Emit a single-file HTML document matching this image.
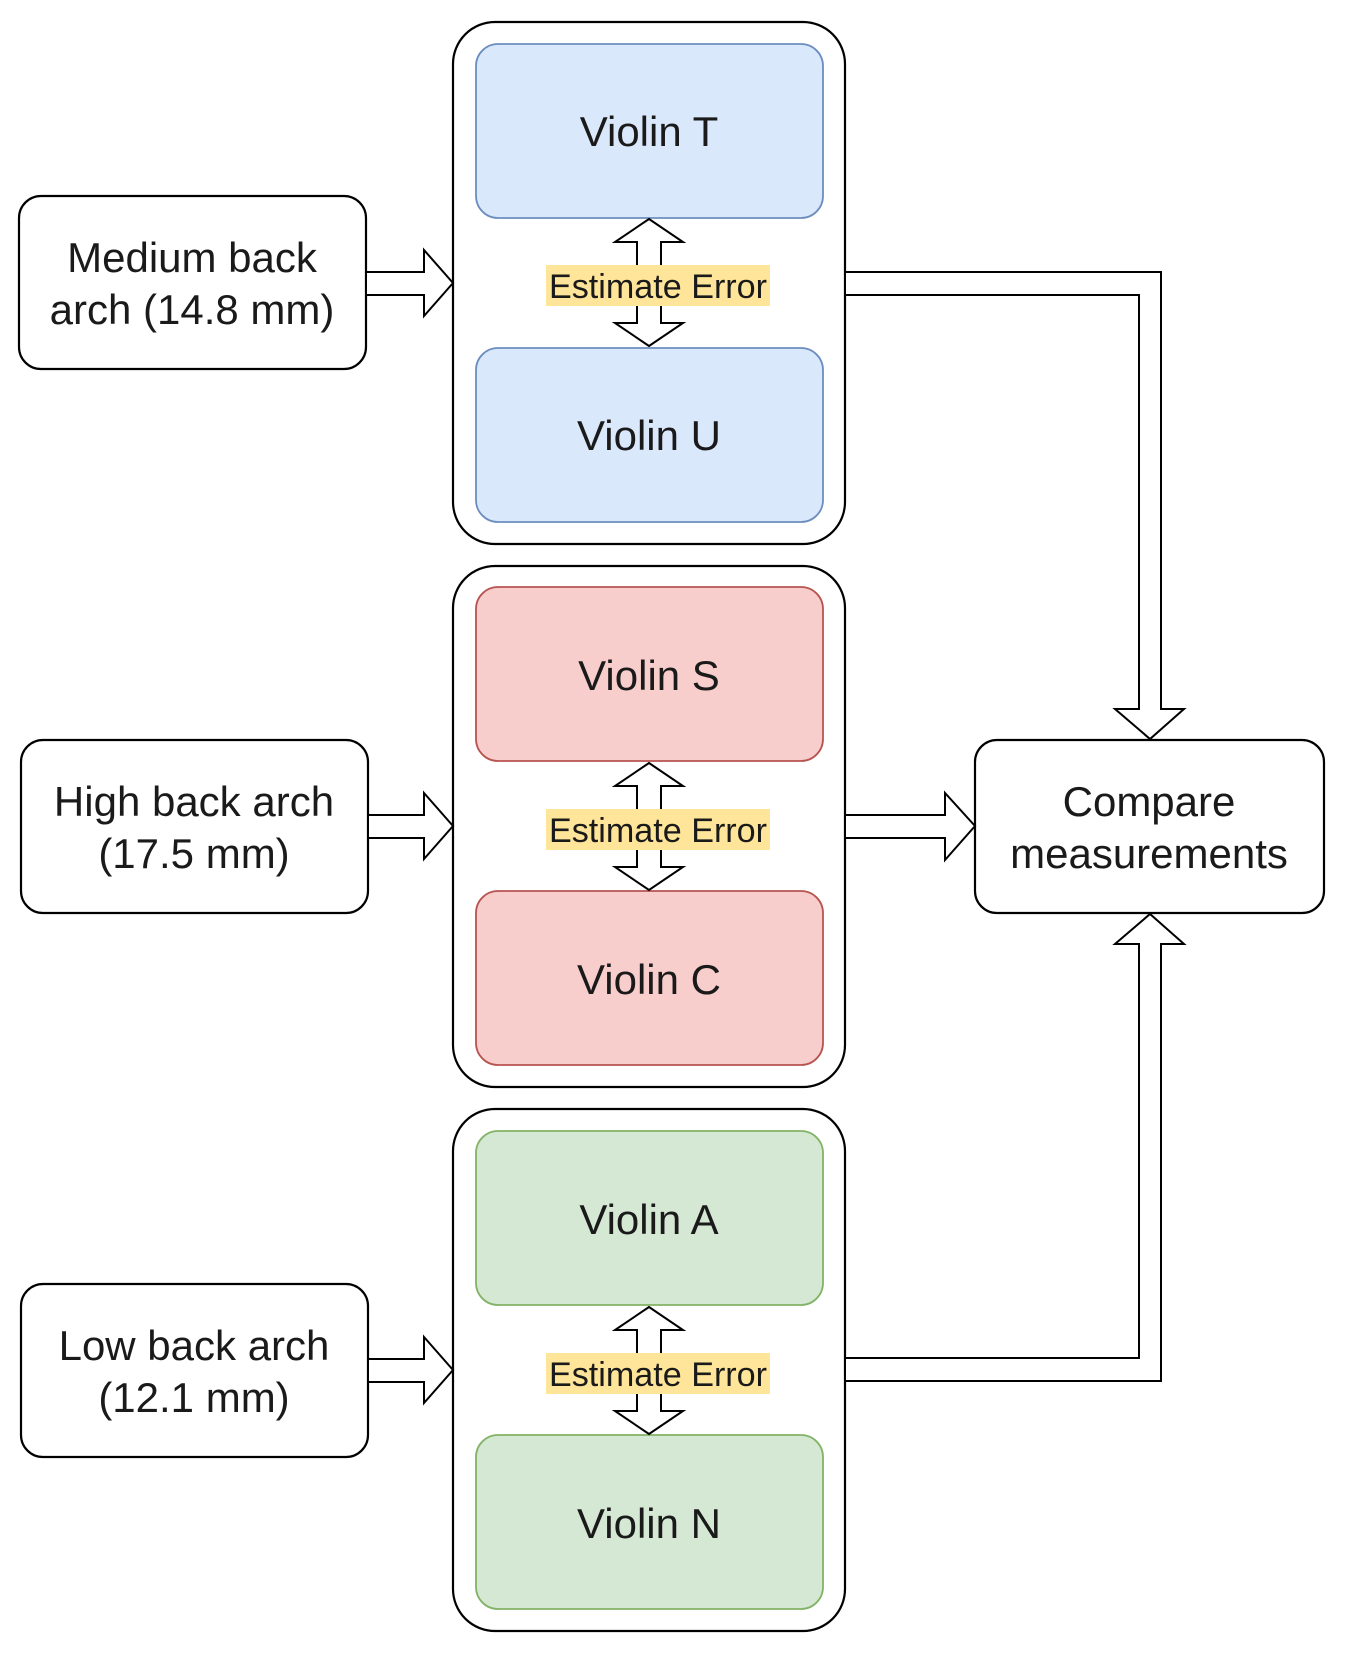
<!DOCTYPE html>
<html><head><meta charset="utf-8"><style>
body{margin:0;background:#fff}
svg{display:block}
text{font-family:"Liberation Sans",sans-serif;fill:#1a1a1a}
</style></head><body>
<svg width="1347" height="1654" viewBox="0 0 1347 1654" xmlns="http://www.w3.org/2000/svg">
<g transform="translate(0,2)">
<g fill="#fff" stroke="#000" stroke-width="2.2">
<rect x="453" y="20" width="392" height="522" rx="42"/>
<rect x="453" y="564" width="392" height="521" rx="42"/>
<rect x="453" y="1107" width="392" height="522" rx="42"/>
<rect x="19" y="194" width="347" height="173" rx="22"/>
<rect x="21" y="738" width="347" height="173" rx="22"/>
<rect x="21" y="1282" width="347" height="173" rx="22"/>
<rect x="975" y="738" width="349" height="173" rx="22"/>
</g>
<g stroke-width="1.8">
<rect x="476" y="42" width="347" height="174" rx="22" fill="#dae8fc" stroke="#6c8ebf"/>
<rect x="476" y="346" width="347" height="174" rx="22" fill="#dae8fc" stroke="#6c8ebf"/>
<rect x="476" y="585" width="347" height="174" rx="22" fill="#f8cecc" stroke="#b85450"/>
<rect x="476" y="889" width="347" height="174" rx="22" fill="#f8cecc" stroke="#b85450"/>
<rect x="476" y="1129" width="347" height="174" rx="22" fill="#d5e8d4" stroke="#82b366"/>
<rect x="476" y="1433" width="347" height="174" rx="22" fill="#d5e8d4" stroke="#82b366"/>
</g>
<g fill="#fff" stroke="#000" stroke-width="2" stroke-linejoin="miter">
<polygon points="366,270 424,270 424,248 453,281 424,314 424,293 366,293"/>
<polygon points="368,813 424,813 424,791 453,824 424,857 424,836 368,836"/>
<polygon points="368,1357 424,1357 424,1335 453,1368 424,1401 424,1380 368,1380"/>
<polygon points="649,217 683,240 661,240 661,321 683,321 649,344 615,321 637,321 637,240 615,240"/>
<polygon points="649,761 683,784 661,784 661,865 683,865 649,888 615,865 637,865 637,784 615,784"/>
<polygon points="649,1305 683,1328 661,1328 661,1409 683,1409 649,1432 615,1409 637,1409 637,1328 615,1328"/>
<polygon points="845,270 1161,270 1161,707 1184,707 1150,737 1115,707 1139,707 1139,293 845,293"/>
<polygon points="845,813 945,813 945,791 975,824 945,858 945,836 845,836"/>
<polygon points="845,1379 1161,1379 1161,942 1184,942 1150,912 1115,942 1139,942 1139,1356 845,1356"/>
</g>
<g fill="#ffe599">
<rect x="546" y="263" width="224" height="41"/>
<rect x="546" y="807" width="224" height="41"/>
<rect x="546" y="1351" width="224" height="41"/>
</g>
<g font-size="34" text-anchor="middle" textLength="218">
<text x="658" y="296" textLength="218" lengthAdjust="spacingAndGlyphs">Estimate Error</text>
<text x="658" y="840" textLength="218" lengthAdjust="spacingAndGlyphs">Estimate Error</text>
<text x="658" y="1384" textLength="218" lengthAdjust="spacingAndGlyphs">Estimate Error</text>
</g>
<g font-size="42" text-anchor="middle">
<text x="649" y="144">Violin T</text>
<text x="649" y="448">Violin U</text>
<text x="649" y="688">Violin S</text>
<text x="649" y="992">Violin C</text>
<text x="649" y="1232">Violin A</text>
<text x="649" y="1536">Violin N</text>
<text x="192" y="270">Medium back</text>
<text x="192" y="322">arch (14.8 mm)</text>
<text x="194" y="814">High back arch</text>
<text x="194" y="866">(17.5 mm)</text>
<text x="194" y="1358">Low back arch</text>
<text x="194" y="1410">(12.1 mm)</text>
<text x="1149" y="814">Compare</text>
<text x="1149" y="866">measurements</text>
</g>
</g>
</svg>
</body></html>
